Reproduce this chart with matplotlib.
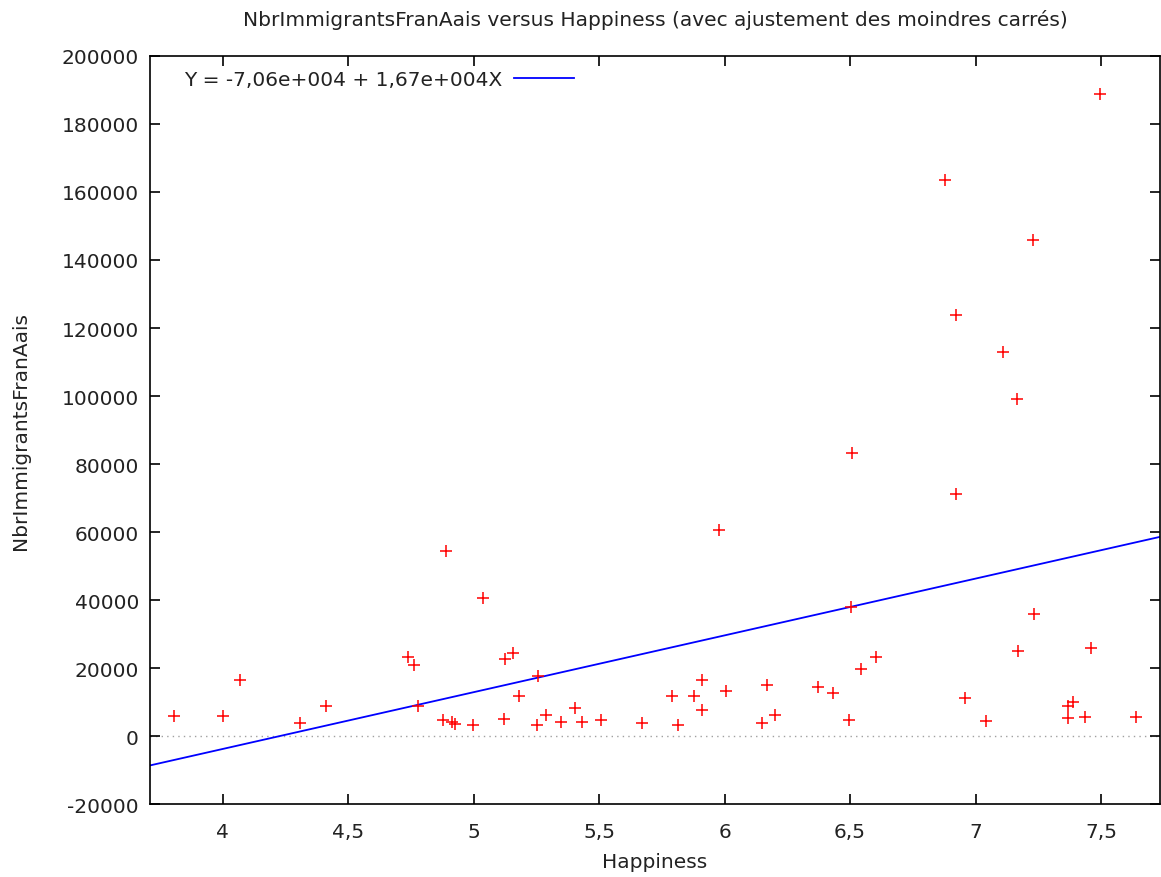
import numpy as np
import matplotlib.pyplot as plt
from matplotlib.ticker import FuncFormatter, MultipleLocator

# Donnees
happiness = [3.807, 4.002, 4.069, 4.308, 4.411, 4.739, 4.762, 4.888, 4.779, 4.878,
             4.913, 4.926, 4.999, 5.037, 5.120, 5.125, 5.158, 5.180, 5.258, 5.252,
             5.290, 5.346, 5.403, 5.433, 5.509, 5.670, 5.814, 5.789, 5.879, 5.909,
             5.909, 5.976, 6.006, 6.148, 6.170, 6.200, 6.371, 6.431, 6.497, 6.505,
             6.544, 6.602, 6.959, 7.043, 7.169, 7.235, 7.370, 7.390, 7.370, 7.437,
             7.459, 7.639, 7.496, 6.878, 7.228, 6.923, 7.109, 7.167, 6.506, 6.923]
immigrants = [6000, 6000, 16600, 3800, 8800, 23300, 21000, 54500, 8900, 4600,
              4000, 3500, 3300, 40700, 5100, 22600, 24400, 11700, 17600, 3300,
              6200, 4000, 8300, 4000, 4600, 3900, 3300, 11700, 11700, 16600,
              7700, 60600, 13200, 3800, 14900, 6200, 14300, 12700, 4600, 38000,
              19800, 23100, 11100, 4500, 24900, 35800, 8900, 10100, 5400, 5500,
              26000, 5500, 188800, 163400, 145900, 123800, 112800, 99000, 83100, 71100]

intercept = -7.06e4
slope = 1.67e4
fit_label = "Y = -7,06e+004 + 1,67e+004X"

plt.rcParams.update({"font.family": "DejaVu Sans", "font.size": 14.5})
txt = "#222222"

fig = plt.figure(figsize=(11.61, 8.78), dpi=100)
ax = fig.add_axes([0.1292, 0.0831, 0.8699, 0.852])

xmin, xmax = 3.71, 7.735
ax.axhline(0, color="#a0a0a0", lw=1, ls=(0, (1, 3)), zorder=1)

xs = np.array([xmin, xmax])
ax.plot(xs, intercept + slope * xs, color="#0000ff", lw=1.3, label=fit_label, zorder=2)
ax.plot(happiness, immigrants, ls="none", marker="+", ms=9, mew=1.1,
        color="#ff0000", zorder=3)

ax.set_xlim(xmin, xmax)
ax.set_ylim(-20000, 200000)
ax.xaxis.set_major_locator(MultipleLocator(0.5))
ax.yaxis.set_major_locator(MultipleLocator(20000))
ax.xaxis.set_major_formatter(FuncFormatter(lambda v, p: f"{v:g}".replace(".", ",")))
ax.yaxis.set_major_formatter(FuncFormatter(lambda v, p: f"{v:.0f}"))
ax.tick_params(direction="in", length=7, width=1.2, top=True, right=True,
               colors="black", labelcolor=txt)
ax.tick_params(axis="x", pad=13)
ax.tick_params(axis="y", pad=8)
for s in ax.spines.values():
    s.set_linewidth(1.2)

ax.set_title("NbrImmigrantsFranAais versus Happiness (avec ajustement des moindres carrés)",
             fontsize=14.5, pad=22, color=txt)
ax.set_xlabel("Happiness", labelpad=8, color=txt)
ax.set_ylabel("NbrImmigrantsFranAais", labelpad=23, color=txt)

ax.legend(loc="center left", bbox_to_anchor=(0.0337, 0.968), frameon=False,
          markerfirst=False, handlelength=3.0, handletextpad=0.58,
          borderpad=0, borderaxespad=0, labelcolor=txt)

fig.savefig("out.png", dpi=100)
